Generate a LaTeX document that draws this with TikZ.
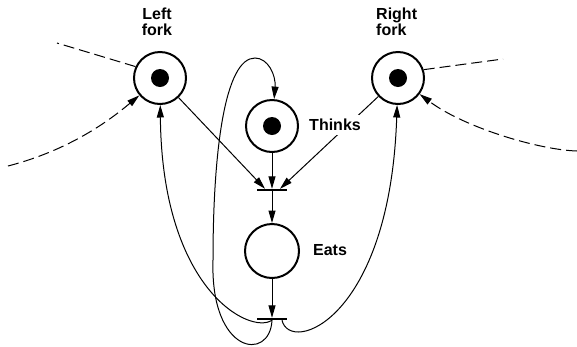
\documentclass[tikz,border=0pt]{standalone}
\usepackage{fontspec}
\setmainfont{Liberation Sans}
\usetikzlibrary{arrows.meta,positioning}

\begin{document}
\begin{tikzpicture}[x=1pt, y=-1pt,
      plc/.style={draw, circle, line width=2pt, minimum size=52pt, inner sep=0pt},
      tok/.style={circle, fill=black, minimum size=18pt, inner sep=0pt},
      bar/.style={rectangle, fill=black, minimum width=30pt, minimum height=2pt, inner sep=0pt},
      lbl/.style={font=\fontsize{16}{16}\selectfont\bfseries, inner sep=0pt},
      a/.style={-{Triangle[length=12.5pt,width=7pt]}, line width=1pt},
      da/.style={a, dash pattern=on 11pt off 5pt},
      dl/.style={line width=1pt, dash pattern=on 11pt off 5pt}
    ]
    \useasboundingbox (0,0) rectangle (577,346);

    % places
    \node[plc] (lf) at (160,78) {};
    \node[plc] (rf) at (398,78) {};
    \node[plc] (th) at (272,126) {};
    \node[plc, minimum size=54pt] (eats) at (272,251) {};
    \node[tok] (lft) at (lf) {};
    \node[tok] (rft) at (rf) {};
    \node[tok] (tht) at (th) {};

    % transitions
    \node[bar] (t1) at (272,190) {};
    \node[bar] (t2) at (272,319) {};

    % free ends of the dashed arcs
    \coordinate (lout) at (57,43);
    \coordinate (lin) at (8,166);
    \coordinate (rout) at (503,59);
    \coordinate (rin) at (577,151);

    % arcs into t1
    \draw[a] (lf) -- ([xshift=-7pt]t1.north);
    \draw[a] (rf) -- ([xshift=8pt]t1.north);
    \draw[a] (th) -- (t1);
    \draw[a] (t1) -- (eats);
    \draw[a] (eats) -- (t2);

    % arcs out of t2
    \draw[a] (t2.south) .. controls (250,335) and (162,290) .. (lf);
    \draw[a] (t2.south) .. controls (270,362) and (210,355) .. (213,260)
      .. controls (213,150) and (225,58) .. (255,58)
      .. controls (268,58) and (276,75) .. (th);
    \draw[a] ([xshift=10pt]t2.south) .. controls (290,355) and (390,320) .. (rf);

    % dashed arcs
    \draw[dl] (lf.155) -- (lout);
    \draw[da] (lin) .. controls (70,150) and (110,120) .. (lf);
    \draw[dl] (rf.18) -- (rout);
    \draw[da] (rin) .. controls (540,150) and (465,128) .. (rf);

    % labels
    \node[lbl, align=center] (lfl) at (157,22) {Left\\fork};
    \node[lbl, align=left, anchor=west] (rfl) at (376,22) {Right\\fork};
    \node[lbl, fill=white, inner sep=4pt] (thl) at (335,125) {Thinks};
    \node[lbl] (eatl) at (330,250) {Eats};
  \end{tikzpicture}
\end{document}
